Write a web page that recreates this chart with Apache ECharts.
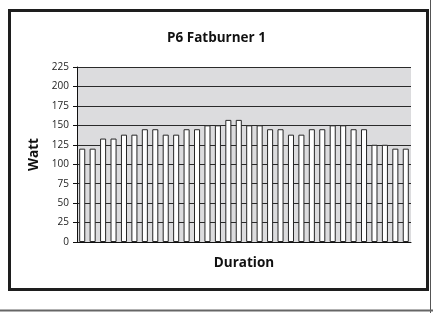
<!DOCTYPE html>
<html>
<head>
<meta charset="utf-8">
<script src="https://cdn.jsdelivr.net/npm/echarts@6/dist/echarts.min.js"></script>
<style>
html, body { margin: 0; padding: 0; background: #fff; }
#chart { width: 433px; height: 313px; }
</style>
</head>
<body>
<div id="chart"></div>
<script>
// segment index along the workout
var segments = [];
for (var i = 1; i <= 32; i++) segments.push(String(i));
// watt per segment
var watts = [120, 120, 133, 133, 138, 138, 145, 145, 138, 138, 145, 145, 150, 150, 157, 157,
             150, 150, 145, 145, 138, 138, 145, 145, 150, 150, 145, 145, 125, 125, 120, 120];
var yTicks = { min: 0, max: 225, step: 25 };

var chart = echarts.init(document.getElementById("chart"));
var font = "'Open Sans', 'DejaVu Sans', sans-serif";

chart.setOption({
    animation: false,
    backgroundColor: "#fff",
    title: {
        text: "P6 Fatburner 1",
        left: "center",
        top: 26,
        textStyle: { fontFamily: font, fontSize: 13.5, fontWeight: "bold", color: "#111" }
    },
    grid: { left: 77, right: 22, top: 67, bottom: 71, show: true, backgroundColor: "#dcdcde", borderWidth: 0 },
    xAxis: {
        type: "category",
        data: segments,
        name: "Duration",
        nameLocation: "middle",
        nameGap: 14,
        nameTextStyle: { fontFamily: font, fontSize: 13.5, fontWeight: "bold", color: "#111" },
        axisLine: { lineStyle: { color: "#111", width: 1 } },
        axisTick: { show: false },
        axisLabel: { show: false }
    },
    yAxis: {
        type: "value",
        min: yTicks.min,
        max: yTicks.max,
        interval: yTicks.step,
        name: "Watt",
        nameLocation: "middle",
        nameGap: 35,
        nameTextStyle: { fontFamily: font, fontSize: 13.5, fontWeight: "bold", color: "#111" },
        axisLine: { show: true, lineStyle: { color: "#111", width: 1 } },
        axisTick: { show: true, length: 4, lineStyle: { color: "#111" } },
        axisLabel: { fontFamily: font, fontSize: 10, color: "#222", margin: 8 },
        splitLine: { lineStyle: { color: "#2a2a2a", width: 1 } }
    },
    series: [{
        type: "bar",
        data: watts,
        barCategoryGap: "42%",
        itemStyle: { color: "#fff", borderColor: "#262626", borderWidth: 1 }
    }],
    graphic: [
        { type: "rect", shape: { x: 9.5, y: 10.5, width: 418, height: 279 },
          style: { fill: "none", stroke: "#1e1e1e", lineWidth: 3 }, z: 100 },
        { type: "line", shape: { x1: 430.5, y1: 0, x2: 430.5, y2: 313 },
          style: { stroke: "#555", lineWidth: 1 }, z: 100 },
        { type: "line", shape: { x1: 0, y1: 310.5, x2: 433, y2: 310.5 },
          style: { stroke: "#666", lineWidth: 2 }, z: 100 }
    ]
});
</script>
</body>
</html>
